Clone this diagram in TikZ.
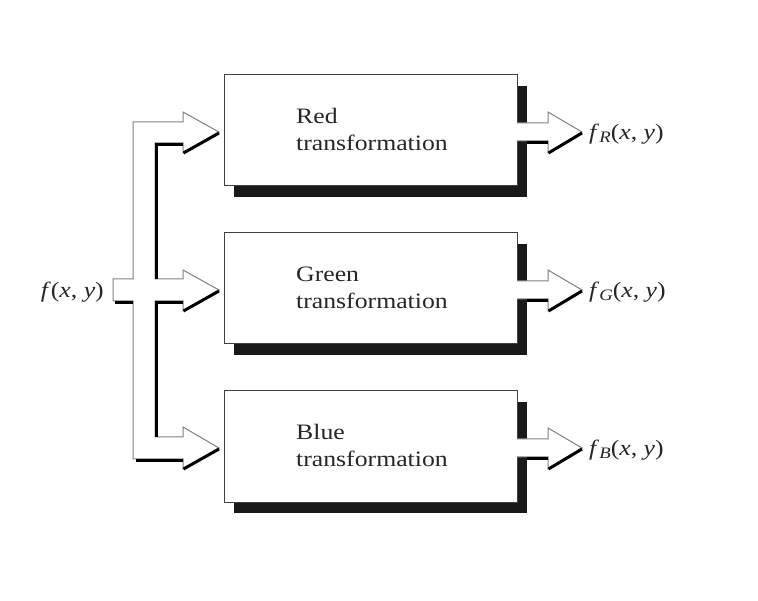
\documentclass[tikz,border=0pt]{standalone}
\usepackage{fontspec}
\setmainfont{Liberation Serif}[FakeStretch=1.17]
\begin{document}
\begin{tikzpicture}[x=1pt,y=-1pt,
  box/.style={draw=black!75, line width=1pt, fill=white, minimum width=293pt, minimum height=111pt, inner sep=0pt},
  shade/.style={fill=black!90},
  lite/.style={draw=black!50, line width=1pt, fill=white, line join=miter},
  dark/.style={draw=black, line width=3pt, line cap=butt, line join=miter},
  lbl/.style={font=\fontsize{22}{26}\selectfont, text=black!85, inner sep=0pt, anchor=base west},
  lblr/.style={font=\fontsize{22}{26}\selectfont, text=black!85, inner sep=0pt, anchor=base east}]
\useasboundingbox (0,0) rectangle (758,601);
\fill[white] (0,0) rectangle (758,601);

\foreach \n/\dy/\t in {R/0/Red, G/158/Green, B/316/Blue}{
  \fill[shade] (234,86+\dy) rectangle (527,197+\dy);
  \node[box] (box\n) at (370.5,130.5+\dy) {};
  \node[lbl] (ta\n) at (296,124+\dy) {\t};
  \node[lbl] (tb\n) at (296,150.5+\dy) {transformation};
  % output arrow
  \fill[white] (516,123+\dy) rectangle (549,141+\dy);
  \draw[lite] (517,123+\dy) -- (548,123+\dy) -- (548,112+\dy) -- (582,132+\dy) -- (548,153+\dy) -- (548,141+\dy) -- (517,141+\dy);
  \draw[dark] (527,142.5+\dy) -- (548,142.5+\dy);
  \draw[dark] (582,133+\dy) -- (548.5,153+\dy);
  \coordinate (tip\n) at (582,132+\dy);
  \node[lbl] (out\n) at (589,140+\dy) {\textit{f}\raisebox{-0.28ex}{\fontsize{16}{16}\selectfont\textit{\n}}(\textit{x}, \textit{y})};
}

% input label
\node[lblr] (inp) at (104,298) {\textit{f}(\textit{x}, \textit{y})};

% input distribution arrows
\draw[lite] (113,279) -- (133,279) -- (133,122) -- (183,122) -- (183,112) -- (219,132)
  -- (183,153) -- (183,143) -- (155,143) -- (155,279) -- (183,279) -- (183,270) -- (219,290)
  -- (183,311) -- (183,301) -- (155,301) -- (155,437) -- (183,437) -- (183,427) -- (219,448)
  -- (183,469) -- (183,459) -- (133,459) -- (133,301) -- (113,301) -- cycle;

\draw[dark] (183,144.5) -- (156.5,144.5) -- (156.5,279);
\draw[dark] (183,302.5) -- (156.5,302.5) -- (156.5,437);
\draw[dark] (183,460.5) -- (136,460.5);
\draw[dark] (115,302.5) -- (133,302.5);
\draw[dark] (219,133) -- (183.5,153);
\draw[dark] (219,291) -- (183.5,311);
\draw[dark] (219,449) -- (183.5,469);
\end{tikzpicture}
\end{document}
